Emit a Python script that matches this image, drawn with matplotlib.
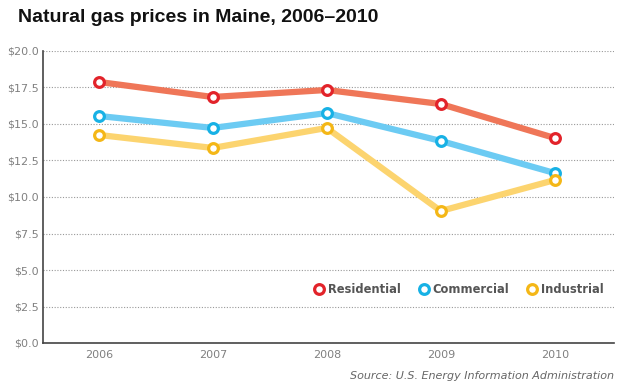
import matplotlib
matplotlib.use("Agg")
import matplotlib.pyplot as plt
import numpy as np

years = [2006, 2007, 2008, 2009, 2010]
residential = [17.88, 16.85, 17.33, 16.37, 14.04]
commercial = [15.55, 14.73, 15.75, 13.84, 11.64]
industrial = [14.25, 13.36, 14.73, 9.04, 11.16]

series = [
    ("Residential", residential, "#ef7658", "#e2232a"),
    ("Commercial", commercial, "#6ccbf3", "#17b1e5"),
    ("Industrial", industrial, "#fcd46f", "#f4b717"),
]

plt.rcParams['font.family'] = ['DejaVu Sans']

fig = plt.figure(figsize=(6.24, 3.9), dpi=100)
ax = fig.add_axes([43 / 624, 1 - 343 / 390, (614 - 43) / 624, (343 - 51) / 390])

for name, vals, lc, mc in series:
    ax.plot(years, vals, color=lc, lw=4.5, solid_capstyle='round', zorder=3)
    ax.plot(years, vals, ls='none', marker='o', ms=7, mfc='white', mec=mc, mew=2.3,
            zorder=4, label=name)

ax.set_xlim(2005.51, 2010.52)
ax.set_ylim(0, 20)
ax.set_yticks(np.arange(0, 20.1, 2.5))
ax.set_yticklabels(["$%.1f" % v for v in np.arange(0, 20.1, 2.5)])
ax.set_xticks(years)
ax.grid(axis='y', ls=(0, (1, 1.5)), color='#999999', lw=0.8)
ax.set_axisbelow(True)
ax.tick_params(length=0, labelsize=8, colors='#808080')
ax.tick_params(axis='y', pad=3)
ax.tick_params(axis='x', pad=5)
for s in ['top', 'right']:
    ax.spines[s].set_visible(False)
for s in ['left', 'bottom']:
    ax.spines[s].set_color('#444444')
    ax.spines[s].set_linewidth(1.2)

leg = ax.legend(loc='lower right', bbox_to_anchor=(1.0, 0.125), ncol=3, frameon=False,
                handletextpad=0.25, columnspacing=1.5, handlelength=1.0,
                prop={'weight': 'bold', 'size': 8.3})
for t in leg.get_texts():
    t.set_color('#555555')

fig.text(18 / 624, 1 - 18 / 390, "Natural gas prices in Maine, 2006\u20132010",
         fontsize=14, fontweight='bold', va='center', ha='left', color='#111111',
         family='Liberation Sans')
fig.text(614 / 624, 1 - 376 / 390, "Source: U.S. Energy Information Administration",
         fontsize=8, style='italic', ha='right', va='center', color='#666666')

fig.savefig("out.png", dpi=100)
